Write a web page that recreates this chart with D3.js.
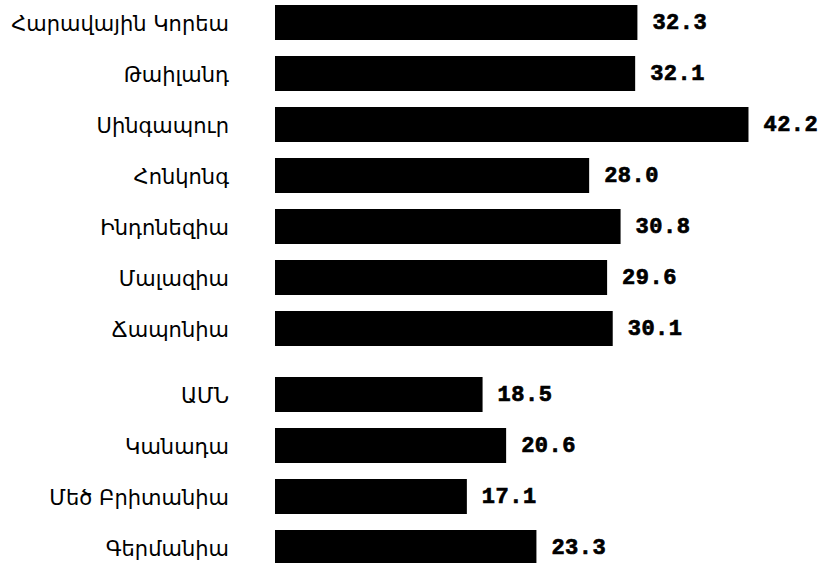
<!DOCTYPE html>
<html>
<head>
<meta charset="utf-8">
<script src="https://cdn.jsdelivr.net/npm/d3@7"></script>
<style>
  html, body { margin: 0; padding: 0; background: #fff; }
  svg { display: block; }
</style>
</head>
<body>
<svg id="chart" width="819" height="563"></svg>
<script>
// Countries, top to bottom
const categories = [
  "Հարավային Կորեա", "Թաիլանդ", "Սինգապուր", "Հոնկոնգ", "Ինդոնեզիա",
  "Մալազիա", "Ճապոնիա", "ԱՄՆ", "Կանադա", "Մեծ Բրիտանիա", "Գերմանիա"
];
// Group 0: Asian economies, group 1: Western economies
const groups = [0, 0, 0, 0, 0, 0, 0, 1, 1, 1, 1];
const values = [32.3, 32.1, 42.2, 28.0, 30.8, 29.6, 30.1, 18.5, 20.6, 17.1, 23.3];
const valueLabels = ["32.3", "32.1", "42.2", "28.0", "30.8", "29.6", "30.1", "18.5", "20.6", "17.1", "23.3"];

const svg = d3.select("#chart");
const groupGap = 15;

const x = d3.scaleLinear().domain([0, 44]).range([275, 275 + 44 * 11.22]);
const y = d3.scaleBand()
  .domain(categories)
  .range([5, 550])
  .paddingInner(16 / 51)
  .paddingOuter(0);

const rows = categories.map((c, i) => ({ c, v: values[i], g: groups[i], t: valueLabels[i] }));
const barTop = d => y(d.c) + (d.g === 1 ? groupGap : 0);

svg.selectAll("rect.bar")
  .data(rows)
  .join("rect")
  .attr("class", "bar")
  .attr("x", x(0))
  .attr("y", barTop)
  .attr("width", d => x(d.v) - x(0))
  .attr("height", y.bandwidth())
  .attr("fill", "#000");

svg.selectAll("text.cat")
  .data(rows)
  .join("text")
  .attr("class", "cat")
  .attr("x", 229)
  .attr("y", d => barTop(d) + y.bandwidth() / 2 + 1)
  .attr("text-anchor", "end")
  .attr("dominant-baseline", "central")
  .attr("font-family", "DejaVu Sans, sans-serif")
  .attr("font-size", 21)
  .attr("fill", "#000")
  .text(d => d.c);

svg.selectAll("text.val")
  .data(rows)
  .join("text")
  .attr("class", "val")
  .attr("x", d => x(d.v) + 15)
  .attr("y", d => barTop(d) + y.bandwidth() / 2 + 1)
  .attr("dominant-baseline", "central")
  .attr("font-family", "Liberation Mono, monospace")
  .attr("font-weight", "bold")
  .attr("font-size", 22)
  .attr("letter-spacing", 0.5)
  .attr("fill", "#000")
  .attr("stroke", "#000")
  .attr("stroke-width", 0.7)
  .text(d => d.t);
</script>
</body>
</html>
